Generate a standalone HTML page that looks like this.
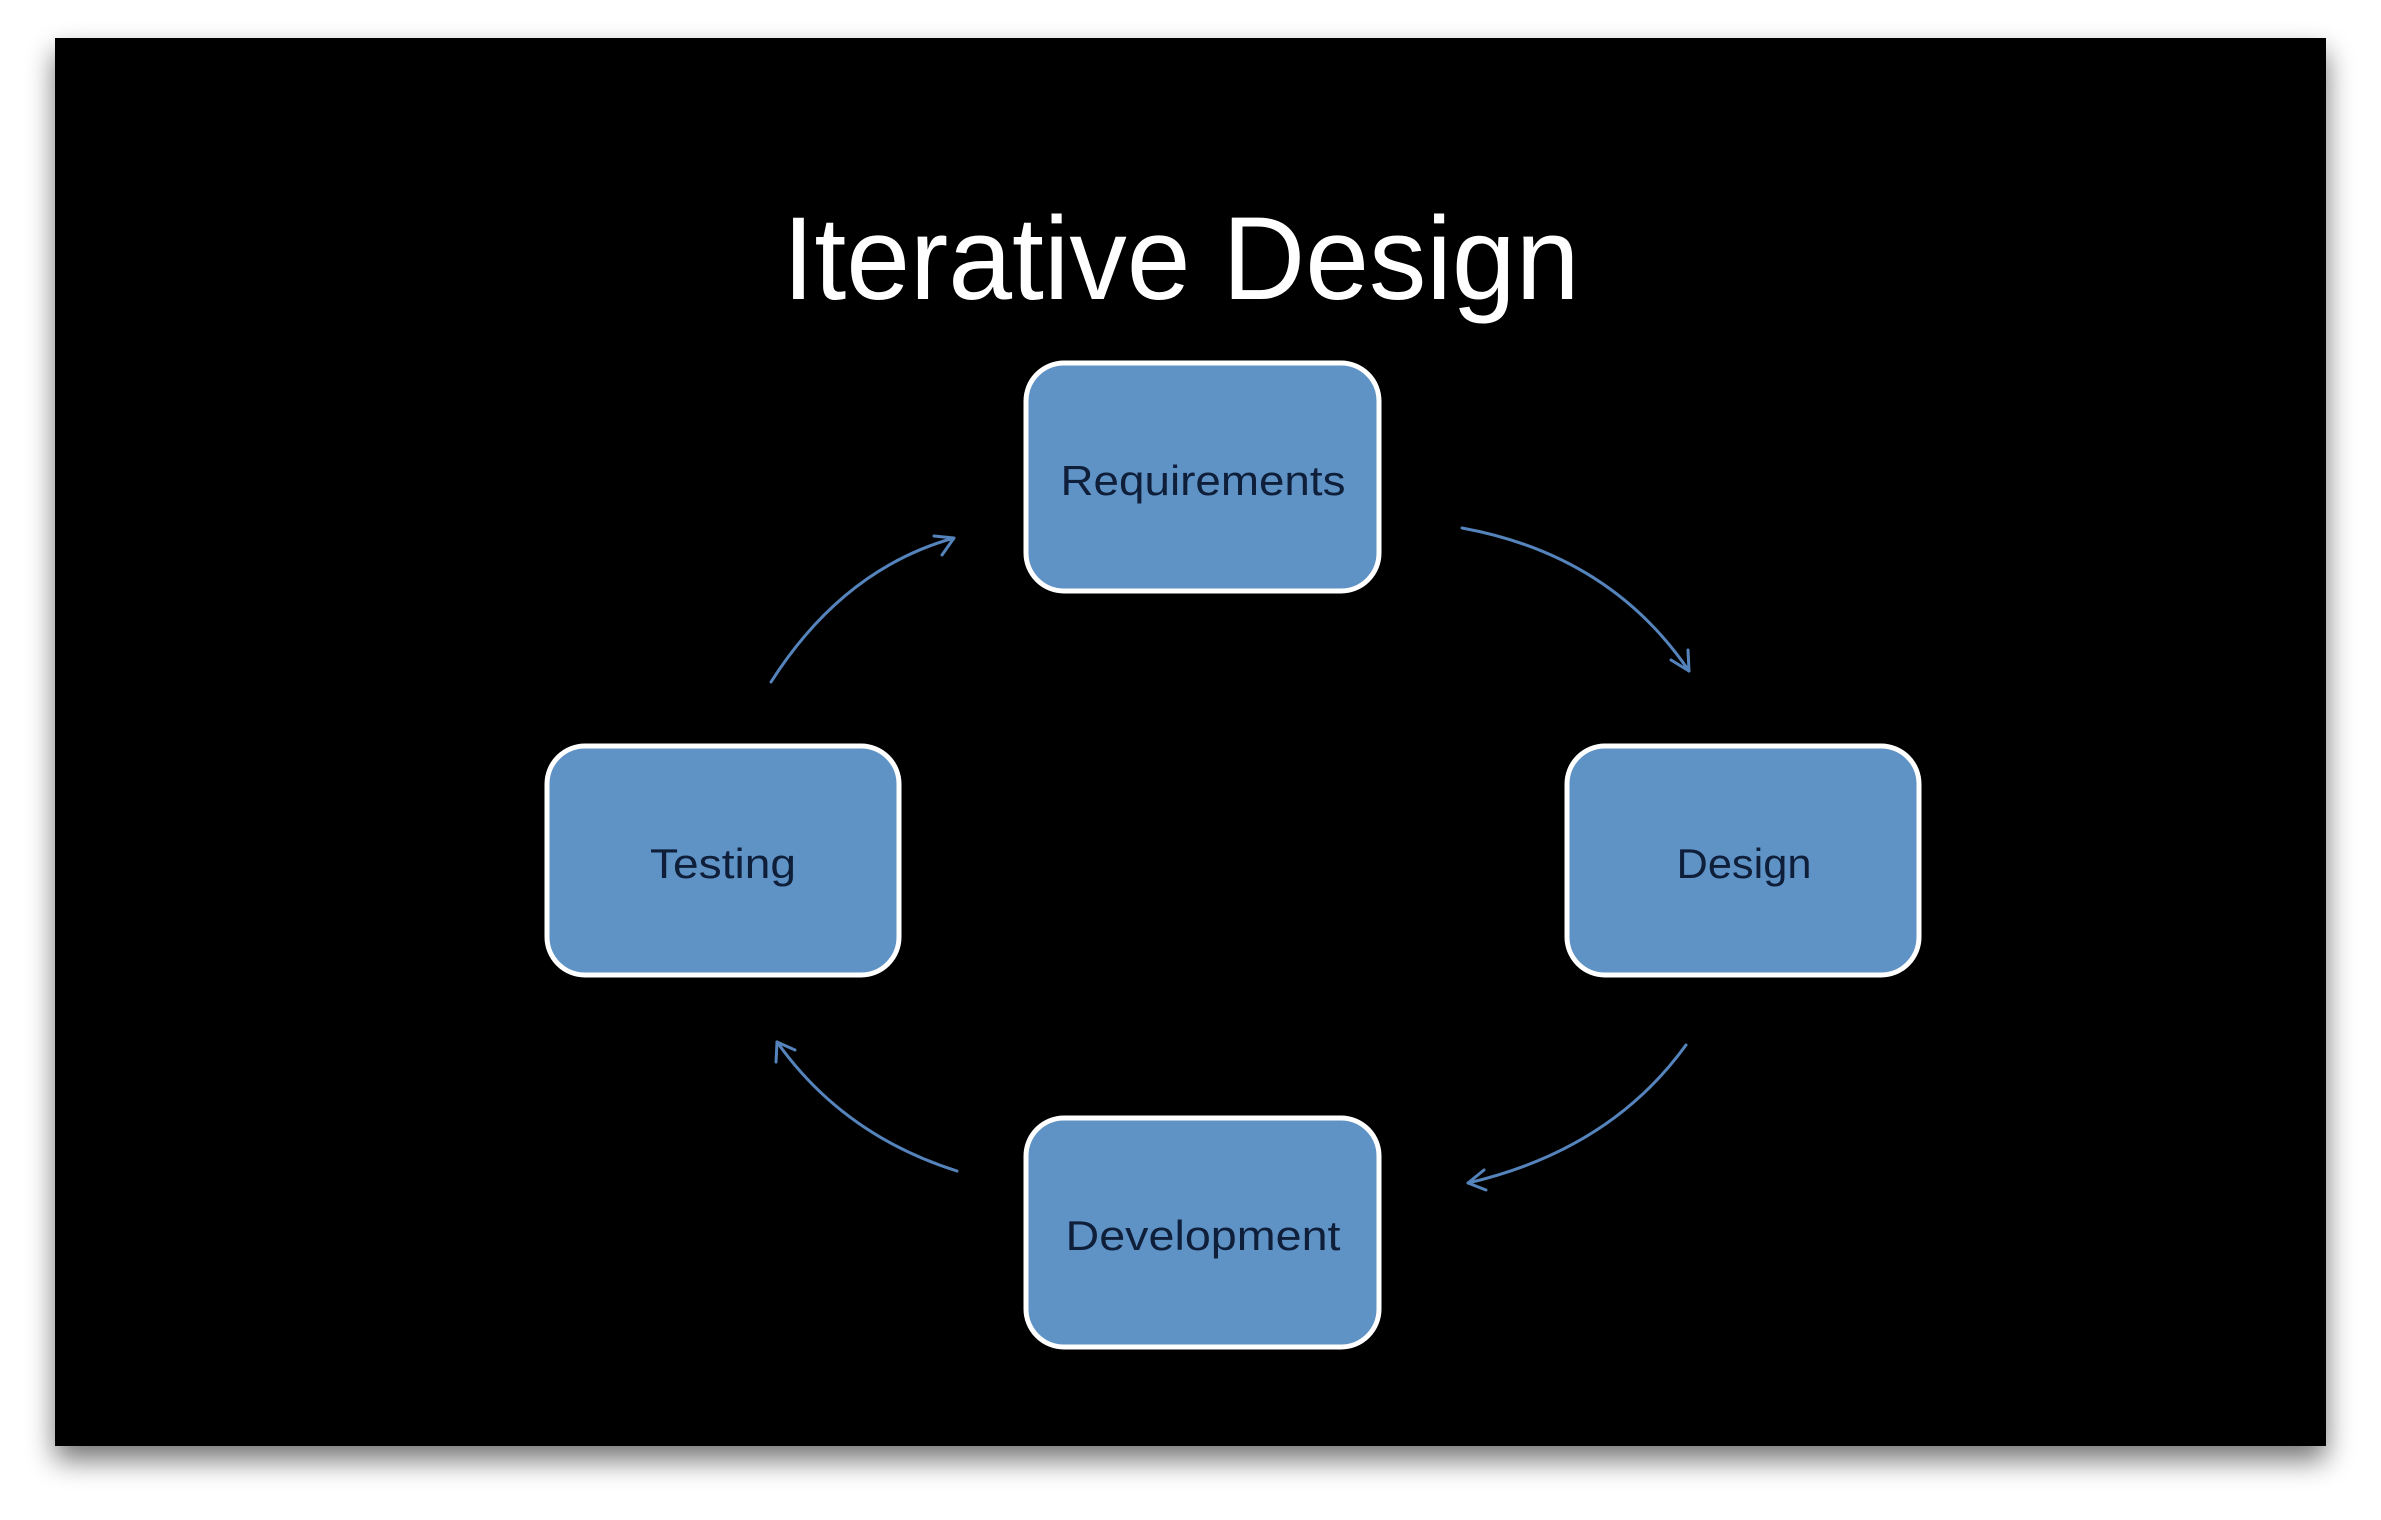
<!DOCTYPE html>
<html><head><meta charset="utf-8"><style>
html,body{margin:0;padding:0;background:#fff;}
svg{display:block}
</style></head><body>
<svg width="2381" height="1520" viewBox="0 0 2381 1520" xmlns="http://www.w3.org/2000/svg">
<defs>
<filter id="sh" x="-5%" y="-5%" width="110%" height="115%">
<feGaussianBlur in="SourceAlpha" stdDeviation="14"/>
<feOffset dy="14"/>
<feComponentTransfer><feFuncA type="linear" slope="0.55"/></feComponentTransfer>
<feMerge><feMergeNode/><feMergeNode in="SourceGraphic"/></feMerge>
</filter>
<marker id="ah" markerWidth="12" markerHeight="12" refX="9" refY="6" orient="auto" markerUnits="userSpaceOnUse" viewBox="0 0 12 12">
</marker>
</defs>
<rect x="55" y="38" width="2271" height="1408" fill="#000" filter="url(#sh)"/>
<text x="1181" y="299" font-family="Liberation Sans, sans-serif" font-size="118" fill="#fff" text-anchor="middle" textLength="797" lengthAdjust="spacingAndGlyphs">Iterative Design</text>
<g fill="#5f93c6" stroke="#fff" stroke-width="5">
<rect x="1026" y="363" width="353" height="228" rx="38"/>
<rect x="547" y="746" width="352" height="229" rx="38"/>
<rect x="1567" y="746" width="352" height="229" rx="38"/>
<rect x="1026" y="1118" width="353" height="229" rx="38"/>
</g>
<g font-family="Liberation Sans, sans-serif" font-size="42" fill="#0f1f3a" text-anchor="middle" lengthAdjust="spacingAndGlyphs">
<text x="1203" y="495" textLength="285" lengthAdjust="spacingAndGlyphs">Requirements</text>
<text x="723" y="878" textLength="146" lengthAdjust="spacingAndGlyphs">Testing</text>
<text x="1744" y="878" textLength="135" lengthAdjust="spacingAndGlyphs">Design</text>
<text x="1203" y="1250" textLength="275" lengthAdjust="spacingAndGlyphs">Development</text>
</g>
<g fill="none" stroke="#5583bb" stroke-width="3" stroke-linecap="round" stroke-linejoin="round">
<path d="M1462 528 Q1610 555 1689 671"/>
<path d="M1671 660 L1689 671 L1688 650"/>
<path d="M1686 1045 Q1610 1150 1468 1183"/>
<path d="M1484 1170 L1468 1183 L1486 1190"/>
<path d="M957 1171 Q843 1135 777 1042"/>
<path d="M776 1062 L777 1042 L795 1050"/>
<path d="M771 682 Q843 569 954 538"/>
<path d="M934 536 L954 538 L942 555"/>
</g>
</svg>
</body></html>
